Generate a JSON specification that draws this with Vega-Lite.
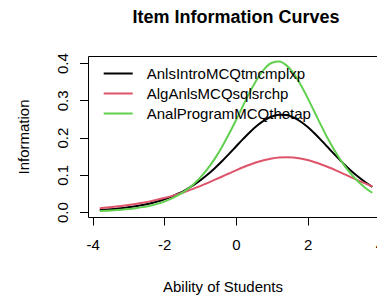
{
  "$schema": "https://vega.github.io/schema/vega-lite/v6.json",
  "width": 296,
  "height": 161,
  "autosize": {"type": "none"},
  "padding": {"left": 88, "top": 56, "right": -7, "bottom": 80},
  "background": "white",
  "config": {
    "font": "Liberation Sans",
    "view": {"stroke": "#000", "strokeWidth": 1},
    "axis": {"grid": false, "domain": false, "tickColor": "#000", "tickWidth": 1, "labelColor": "#000", "titleColor": "#000", "labelFontSize": 15, "titleFontSize": 15, "titleFontWeight": "normal", "labelFont": "Liberation Sans", "titleFont": "Liberation Sans"}
  },
  "title": {"text": "Item Information Curves", "fontSize": 18, "fontWeight": "bold", "color": "#000", "anchor": "middle", "offset": 26, "font": "Liberation Sans"},
  "data": {"values": [
    {"x": -3.8, "AnlsIntroMCQtmcmplxp": 0.0058, "AlgAnlsMCQsqlsrchp": 0.0106, "AnalProgramMCQthetap": 0.0030},
    {"x": -3.6, "AnlsIntroMCQtmcmplxp": 0.0071, "AlgAnlsMCQsqlsrchp": 0.0122, "AnalProgramMCQthetap": 0.0038},
    {"x": -3.4, "AnlsIntroMCQtmcmplxp": 0.0087, "AlgAnlsMCQsqlsrchp": 0.0142, "AnalProgramMCQthetap": 0.0049},
    {"x": -3.2, "AnlsIntroMCQtmcmplxp": 0.0106, "AlgAnlsMCQsqlsrchp": 0.0164, "AnalProgramMCQthetap": 0.0064},
    {"x": -3.0, "AnlsIntroMCQtmcmplxp": 0.0129, "AlgAnlsMCQsqlsrchp": 0.0189, "AnalProgramMCQthetap": 0.0082},
    {"x": -2.8, "AnlsIntroMCQtmcmplxp": 0.0158, "AlgAnlsMCQsqlsrchp": 0.0218, "AnalProgramMCQthetap": 0.0105},
    {"x": -2.6, "AnlsIntroMCQtmcmplxp": 0.0192, "AlgAnlsMCQsqlsrchp": 0.0251, "AnalProgramMCQthetap": 0.0135},
    {"x": -2.4, "AnlsIntroMCQtmcmplxp": 0.0234, "AlgAnlsMCQsqlsrchp": 0.0289, "AnalProgramMCQthetap": 0.0173},
    {"x": -2.2, "AnlsIntroMCQtmcmplxp": 0.0284, "AlgAnlsMCQsqlsrchp": 0.0331, "AnalProgramMCQthetap": 0.0222},
    {"x": -2.0, "AnlsIntroMCQtmcmplxp": 0.0344, "AlgAnlsMCQsqlsrchp": 0.0378, "AnalProgramMCQthetap": 0.0284},
    {"x": -1.8, "AnlsIntroMCQtmcmplxp": 0.0416, "AlgAnlsMCQsqlsrchp": 0.0431, "AnalProgramMCQthetap": 0.0363},
    {"x": -1.6, "AnlsIntroMCQtmcmplxp": 0.0501, "AlgAnlsMCQsqlsrchp": 0.0490, "AnalProgramMCQthetap": 0.0461},
    {"x": -1.4, "AnlsIntroMCQtmcmplxp": 0.0601, "AlgAnlsMCQsqlsrchp": 0.0554, "AnalProgramMCQthetap": 0.0585},
    {"x": -1.2, "AnlsIntroMCQtmcmplxp": 0.0717, "AlgAnlsMCQsqlsrchp": 0.0625, "AnalProgramMCQthetap": 0.0738},
    {"x": -1.0, "AnlsIntroMCQtmcmplxp": 0.0851, "AlgAnlsMCQsqlsrchp": 0.0700, "AnalProgramMCQthetap": 0.0926},
    {"x": -0.8, "AnlsIntroMCQtmcmplxp": 0.1003, "AlgAnlsMCQsqlsrchp": 0.0780, "AnalProgramMCQthetap": 0.1154},
    {"x": -0.6, "AnlsIntroMCQtmcmplxp": 0.1173, "AlgAnlsMCQsqlsrchp": 0.0864, "AnalProgramMCQthetap": 0.1423},
    {"x": -0.4, "AnlsIntroMCQtmcmplxp": 0.1359, "AlgAnlsMCQsqlsrchp": 0.0950, "AnalProgramMCQthetap": 0.1736},
    {"x": -0.2, "AnlsIntroMCQtmcmplxp": 0.1557, "AlgAnlsMCQsqlsrchp": 0.1037, "AnalProgramMCQthetap": 0.2088},
    {"x": 0.0, "AnlsIntroMCQtmcmplxp": 0.1762, "AlgAnlsMCQsqlsrchp": 0.1123, "AnalProgramMCQthetap": 0.2470},
    {"x": 0.2, "AnlsIntroMCQtmcmplxp": 0.1966, "AlgAnlsMCQsqlsrchp": 0.1205, "AnalProgramMCQthetap": 0.2865},
    {"x": 0.4, "AnlsIntroMCQtmcmplxp": 0.2160, "AlgAnlsMCQsqlsrchp": 0.1280, "AnalProgramMCQthetap": 0.3248},
    {"x": 0.6, "AnlsIntroMCQtmcmplxp": 0.2332, "AlgAnlsMCQsqlsrchp": 0.1347, "AnalProgramMCQthetap": 0.3588},
    {"x": 0.8, "AnlsIntroMCQtmcmplxp": 0.2471, "AlgAnlsMCQsqlsrchp": 0.1401, "AnalProgramMCQthetap": 0.3851},
    {"x": 1.0, "AnlsIntroMCQtmcmplxp": 0.2567, "AlgAnlsMCQsqlsrchp": 0.1442, "AnalProgramMCQthetap": 0.4008},
    {"x": 1.2, "AnlsIntroMCQtmcmplxp": 0.2613, "AlgAnlsMCQsqlsrchp": 0.1467, "AnalProgramMCQthetap": 0.4041},
    {"x": 1.4, "AnlsIntroMCQtmcmplxp": 0.2605, "AlgAnlsMCQsqlsrchp": 0.1475, "AnalProgramMCQthetap": 0.3945},
    {"x": 1.6, "AnlsIntroMCQtmcmplxp": 0.2543, "AlgAnlsMCQsqlsrchp": 0.1465, "AnalProgramMCQthetap": 0.3731},
    {"x": 1.8, "AnlsIntroMCQtmcmplxp": 0.2433, "AlgAnlsMCQsqlsrchp": 0.1439, "AnalProgramMCQthetap": 0.3426},
    {"x": 2.0, "AnlsIntroMCQtmcmplxp": 0.2283, "AlgAnlsMCQsqlsrchp": 0.1397, "AnalProgramMCQthetap": 0.3060},
    {"x": 2.2, "AnlsIntroMCQtmcmplxp": 0.2103, "AlgAnlsMCQsqlsrchp": 0.1341, "AnalProgramMCQthetap": 0.2668},
    {"x": 2.4, "AnlsIntroMCQtmcmplxp": 0.1906, "AlgAnlsMCQsqlsrchp": 0.1273, "AnalProgramMCQthetap": 0.2276},
    {"x": 2.6, "AnlsIntroMCQtmcmplxp": 0.1700, "AlgAnlsMCQsqlsrchp": 0.1197, "AnalProgramMCQthetap": 0.1907},
    {"x": 2.8, "AnlsIntroMCQtmcmplxp": 0.1497, "AlgAnlsMCQsqlsrchp": 0.1115, "AnalProgramMCQthetap": 0.1574},
    {"x": 3.0, "AnlsIntroMCQtmcmplxp": 0.1302, "AlgAnlsMCQsqlsrchp": 0.1029, "AnalProgramMCQthetap": 0.1283},
    {"x": 3.2, "AnlsIntroMCQtmcmplxp": 0.1120, "AlgAnlsMCQsqlsrchp": 0.0942, "AnalProgramMCQthetap": 0.1035},
    {"x": 3.4, "AnlsIntroMCQtmcmplxp": 0.0956, "AlgAnlsMCQsqlsrchp": 0.0855, "AnalProgramMCQthetap": 0.0827},
    {"x": 3.6, "AnlsIntroMCQtmcmplxp": 0.0809, "AlgAnlsMCQsqlsrchp": 0.0772, "AnalProgramMCQthetap": 0.0657},
    {"x": 3.8, "AnlsIntroMCQtmcmplxp": 0.0680, "AlgAnlsMCQsqlsrchp": 0.0692, "AnalProgramMCQthetap": 0.0520}
  ]},
  "transform": [
    {"fold": ["AnlsIntroMCQtmcmplxp", "AlgAnlsMCQsqlsrchp", "AnalProgramMCQthetap"], "as": ["item", "info"]}
  ],
  "mark": {"type": "line", "strokeWidth": 2, "interpolate": "monotone", "clip": true},
  "encoding": {
    "x": {
      "field": "x", "type": "quantitative",
      "scale": {"domain": [-4.128, 4.128], "nice": false, "zero": false},
      "axis": {"title": "Ability of Students", "values": [-4, -2, 0, 2, 4], "labelExpr": "'' + datum.value", "tickSize": 8, "labelPadding": 12, "titlePadding": 27, "titleX": 134.5, "labelFlush": false, "labelOverlap": false}
    },
    "y": {
      "field": "info", "type": "quantitative",
      "scale": {"domain": [-0.013, 0.419], "nice": false, "zero": false},
      "axis": {"title": "Information", "values": [0, 0.1, 0.2, 0.3, 0.4], "format": ".1f", "labelAngle": -90, "labelAlign": "center", "labelBaseline": "bottom", "tickSize": 8.5, "labelPadding": 9, "titlePadding": 24, "labelFlush": false, "labelOverlap": false}
    },
    "color": {
      "field": "item", "type": "nominal",
      "scale": {"domain": ["AnlsIntroMCQtmcmplxp", "AlgAnlsMCQsqlsrchp", "AnalProgramMCQthetap"], "range": ["#000000", "#DF536B", "#61D04F"]},
      "legend": {"orient": "none", "legendX": 14.7, "legendY": 10, "title": null, "symbolType": "stroke", "symbolSize": 841, "symbolStrokeWidth": 2, "labelFontSize": 15, "labelColor": "#000", "labelOffset": 13, "clipHeight": 15, "rowPadding": 4, "padding": 0, "labelLimit": 0, "labelFont": "Liberation Sans"}
    }
  }
}
